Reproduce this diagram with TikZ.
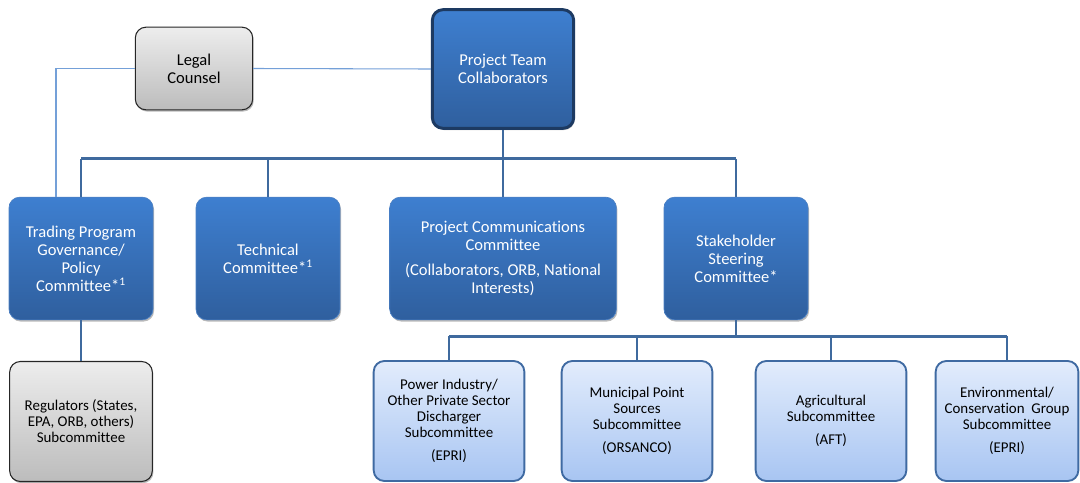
\documentclass[tikz,border=0pt]{standalone}
\usepackage{fontspec}
\setmainfont{Carlito}[Ligatures=NoCommon]
\usetikzlibrary{shadows}

\definecolor{blutop}{HTML}{3E7FD0}
\definecolor{blubot}{HTML}{2F5F9E}
\definecolor{bluedge}{HTML}{4B80C4}
\definecolor{teamedge}{HTML}{1D3A62}
\definecolor{lighttop}{HTML}{E2ECFC}
\definecolor{lightbot}{HTML}{A8C5F2}
\definecolor{lightedge}{HTML}{3F6AA2}
\definecolor{graytop}{HTML}{EDEDED}
\definecolor{graybot}{HTML}{BCBCBC}
\definecolor{busblue}{HTML}{3F6A9E}
\definecolor{thinblue}{HTML}{74A0D8}

\tikzset{
  boxshadow/.style={drop shadow={shadow xshift=0.8pt,shadow yshift=-1.3pt,fill=black!45,opacity=0.6}},
  bluebox/.style={rounded corners=8pt,draw=bluedge,line width=0.5pt,top color=blutop,bottom color=blubot,
    text=white,align=center,font=\fontsize{12.4}{13.5}\selectfont,
    minimum width=108pt,minimum height=92pt,inner sep=2pt,boxshadow},
  teambox/.style={bluebox,draw=teamedge,line width=2.2pt,minimum width=106pt,minimum height=89pt},
  graybox/.style={rounded corners=8pt,draw=black!85,line width=0.8pt,top color=graytop,bottom color=graybot,
    align=center,font=\fontsize{12.4}{13.5}\selectfont,boxshadow},
  subbox/.style={rounded corners=8pt,draw=lightedge,line width=1.4pt,top color=lighttop,bottom color=lightbot,
    align=center,font=\fontsize{11.2}{12}\selectfont,minimum width=113pt,minimum height=90pt,inner sep=2pt},
  busline/.style={busblue,line width=2.2pt},
  thinline/.style={thinblue,line width=0.8pt},
}

\begin{document}
\begin{tikzpicture}[x=0.75pt,y=-0.75pt]
\useasboundingbox (0,0) rectangle (1080,482);

% top level
\node[teambox] (team) at (503,69) {Project Team\\Collaborators};
\node[graybox,minimum width=88pt,minimum height=62pt] (legal) at (194,68.5) {Legal\\Counsel};

% committees
\node[bluebox] (trading) at (81,258.5) {Trading Program\\Governance/\\Policy\\Committee*\textsuperscript{1}};
\node[bluebox] (technical) at (268,258.5) {Technical\\Committee*\textsuperscript{1}};
\node[bluebox,minimum width=170pt] (comms) at (503,258.5) {Project Communications\\Committee\\[5pt](Collaborators, ORB, National\\Interests)};
\node[bluebox] (steering) at (736,258.5) {Stakeholder\\Steering\\Committee*};

% subcommittees
\node[graybox,font=\fontsize{11.2}{12}\selectfont,minimum width=107pt,minimum height=90pt] (regulators) at (81,421.5) {Regulators (States,\\EPA, ORB, others)\\Subcommittee};
\node[subbox] (power) at (449,421) {Power Industry/\\Other Private Sector\\Discharger\\Subcommittee\\[5pt](EPRI)};
\node[subbox] (municipal) at (637,421) {Municipal Point\\Sources\\Subcommittee\\[5pt](ORSANCO)};
\node[subbox] (agri) at (831,421) {Agricultural\\Subcommittee\\[5pt](AFT)};
\node[subbox,minimum width=107pt] (enviro) at (1007,421) {Environmental/\\Conservation~ Group\\Subcommittee\\[5pt](EPRI)};

% legal counsel links
\coordinate (lcfoot) at (56,197);
\draw[thinline] (legal.east) -- (team.west);
\draw[thinline] (legal.west) -| (lcfoot);

% upper bus
\path (team.south) ++(0,29) coordinate (hubA);
\draw[busline] (team.south) -- (hubA);
\draw[busline] (hubA -| trading.north) -- (hubA -| steering.north);
\foreach \n in {trading,technical,comms,steering}
  \draw[busline] (hubA -| \n.north) -- (\n.north);

% lower bus
\path (steering.south) ++(0,16) coordinate (hubB);
\draw[busline] (steering.south) -- (hubB);
\draw[busline] (hubB -| power.north) -- (hubB -| enviro.north);
\foreach \n in {power,municipal,agri,enviro}
  \draw[busline] (hubB -| \n.north) -- ([yshift=-1pt]\n.north);

\draw[busline] (trading.south) -- (regulators.north);
\end{tikzpicture}
\end{document}
